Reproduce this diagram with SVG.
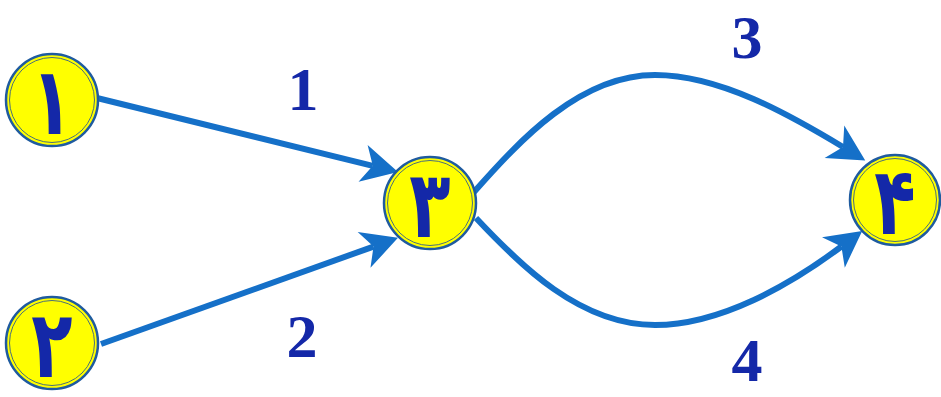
<svg xmlns="http://www.w3.org/2000/svg" width="941" height="397" viewBox="0 0 941 397">
  <style>
    .bg { fill: #ffffff; }
    .edge { fill: none; stroke: #1570c8; stroke-width: 6; }
    .head { fill: #1570c8; }
    .ring { fill: #ffff00; stroke: #1f5b9f; stroke-width: 2.5; }
    .inner { fill: none; stroke: #4a6f7a; stroke-width: 1; }
    .digit { font-family: "DejaVu Sans", "Noto Sans", sans-serif; font-weight: bold; font-size: 94px; fill: #1428a8; text-anchor: middle; }
    .label { font-family: "Liberation Serif", "DejaVu Serif", serif; font-weight: bold; font-size: 62px; fill: #1428a8; text-anchor: middle; }
  </style>
  <defs>
    <!-- swept-back arrowhead; reference point is the notch where the line ends -->
    <marker id="arrow" markerUnits="userSpaceOnUse" orient="auto" refX="0" refY="0" markerWidth="40" markerHeight="40" overflow="visible">
      <path class="head" d="M26,0 L-10,-19 L0,0 L-10,19 Z"/>
    </marker>
  </defs>
  <rect class="bg" x="0" y="0" width="941" height="397"/>

  <g id="connectors">
    <path class="edge" d="M97,98 L372.8,165.8" marker-end="url(#arrow)"/>
    <path class="edge" d="M101,344 L373.5,246.6" marker-end="url(#arrow)"/>
    <path class="edge" d="M474,192 C520,140 580,75 655,75 C720,75 790,115 843,147" marker-end="url(#arrow)"/>
    <path class="edge" d="M476,218 C520,265 580,325 655,325 C720,325 790,285 841.4,246.5" marker-end="url(#arrow)"/>
  </g>

  <g id="edge-labels">
    <text class="label" x="303" y="110">1</text>
    <text class="label" x="302" y="357">2</text>
    <text class="label" x="747" y="58">3</text>
    <text class="label" x="747" y="381">4</text>
  </g>

  <!-- Persian digits, narrowed horizontally -->
  <g id="node-1">
    <circle class="ring" cx="52" cy="100" r="46"/>
    <circle class="inner" cx="52" cy="100" r="42.5"/>
    <text class="digit" transform="translate(52,134) scale(0.72,1)">۱</text>
  </g>
  <g id="node-2">
    <circle class="ring" cx="52" cy="343" r="46"/>
    <circle class="inner" cx="52" cy="343" r="42.5"/>
    <text class="digit" transform="translate(52,377) scale(0.72,1)">۲</text>
  </g>
  <g id="node-3">
    <circle class="ring" cx="430" cy="203" r="46"/>
    <circle class="inner" cx="430" cy="203" r="42.5"/>
    <text class="digit" transform="translate(430,237) scale(0.72,1)">۳</text>
  </g>
  <g id="node-4">
    <circle class="ring" cx="895" cy="200" r="45"/>
    <circle class="inner" cx="895" cy="200" r="41.5"/>
    <text class="digit" transform="translate(895,234) scale(0.72,1)">۴</text>
  </g>
</svg>
